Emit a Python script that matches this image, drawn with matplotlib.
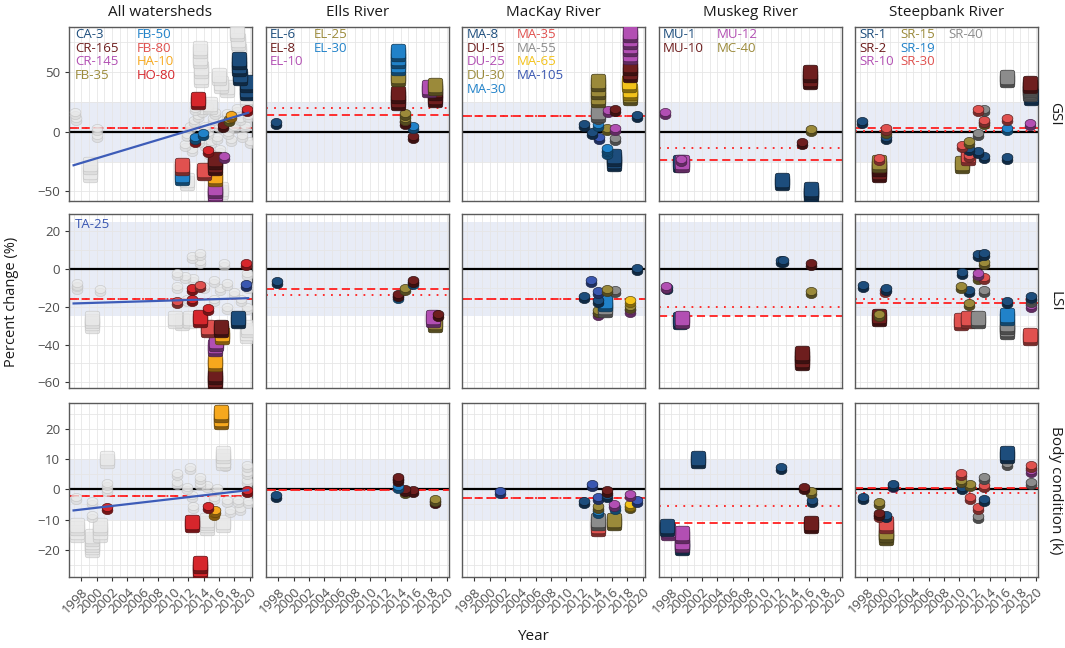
import matplotlib
matplotlib.use('Agg')
import matplotlib.pyplot as plt
import matplotlib.colors as mcolors
import matplotlib.transforms as mtransforms
from matplotlib.path import Path
import numpy as np

plt.rcParams['font.family'] = ['Open Sans', 'DejaVu Sans']

watersheds = ['All watersheds', 'Ells River', 'MacKay River', 'Muskeg River', 'Steepbank River']
metrics = ['GSI', 'LSI', 'Body condition (k)']

navy, maroon, magenta, olive = '#1d4d7c', '#6e1e1e', '#b24fb3', '#9b8a3a'
blue, salmon, orange, red = '#2182c9', '#e0514f', '#f6a81d', '#d6262c'
royal, grey, gold = '#3a57b1', '#8c8c8c', '#f3c21a'

site_colors = {
    'CA-3': navy, 'CR-165': maroon, 'CR-145': magenta, 'FB-35': olive, 'FB-50': blue,
    'FB-80': salmon, 'HA-10': orange, 'HO-80': red, 'TA-25': royal,
    'EL-6': navy, 'EL-8': maroon, 'EL-10': magenta, 'EL-25': olive, 'EL-30': blue,
    'MA-8': navy, 'DU-15': maroon, 'DU-25': magenta, 'DU-30': olive, 'MA-30': blue,
    'MA-35': salmon, 'MA-55': grey, 'MA-65': gold, 'MA-105': royal,
    'MU-1': navy, 'MU-10': maroon, 'MU-12': magenta, 'MC-40': olive,
    'SR-1': navy, 'SR-2': maroon, 'SR-10': magenta, 'SR-15': olive, 'SR-19': blue,
    'SR-30': salmon, 'SR-40': grey,
}

legend_sites = {
    'All watersheds': ['CA-3', 'CR-165', 'CR-145', 'FB-35', 'FB-50', 'FB-80', 'HA-10', 'HO-80'],
    'Ells River': ['EL-6', 'EL-8', 'EL-10', 'EL-25', 'EL-30'],
    'MacKay River': ['MA-8', 'DU-15', 'DU-25', 'DU-30', 'MA-30', 'MA-35', 'MA-55', 'MA-65', 'MA-105'],
    'Muskeg River': ['MU-1', 'MU-10', 'MU-12', 'MC-40'],
    'Steepbank River': ['SR-1', 'SR-2', 'SR-10', 'SR-15', 'SR-19', 'SR-30', 'SR-40'],
}
legend_rows = {'All watersheds': 4, 'Ells River': 3, 'MacKay River': 5,
               'Muskeg River': 2, 'Steepbank River': 3}
legend_cols = {'All watersheds': [0.033, 0.37], 'Ells River': [0.022, 0.262],
               'MacKay River': [0.027, 0.30], 'Muskeg River': [0.022, 0.317],
               'Steepbank River': [0.022, 0.25, 0.51]}

# mean change lines per watershed (dashed / dotted)
dashed_means = {'GSI': [3, 14.5, 13.4, -23.7, 3.3],
                'LSI': [-16, -10.5, -15.9, -25, -18.3],
                'Body condition (k)': [-2.1, -0.3, -2.9, -11, 0.5]}
dotted_means = {'GSI': [3, 19.8, 13.4, -13.7, 0.8],
                'LSI': [-16, -13.8, -15.9, -20, -16],
                'Body condition (k)': [-2.1, -0.3, -2.9, -5.5, -1.1]}

# trend line in the all-watershed panels
trend_years = [1997.0, 2019.8]
trend_vals = {'GSI': [-28, 16], 'LSI': [-18.3, -15.5], 'Body condition (k)': [-7, -0.3]}

ranges = {'GSI': (-58, 88), 'LSI': (-63, 29), 'Body condition (k)': (-29, 28.5)}
yticks = {'GSI': [-50, 0, 50], 'LSI': [-60, -40, -20, 0, 20],
          'Body condition (k)': [-20, -10, 0, 10, 20]}
yminor = {'GSI': [-25, 25, 75], 'LSI': [-50, -30, -10, 10],
          'Body condition (k)': [-25, -15, -5, 5, 15, 25]}
bands = {'GSI': 25, 'LSI': 25, 'Body condition (k)': 10}

# points: (site, year, percent change, shape)  'other' = non-highlighted site
gsi_all = [
    ('other', 1999.2, -27, 's'), ('other', 1999.2, -34, 's'), ('other', 2011.8, -40, 's'),
    ('other', 2013.5, 70, 's'), ('other', 2013.5, 62, 's'), ('other', 2013.6, 54, 's'),
    ('other', 2013.6, 46, 's'), ('other', 2015.3, -31, 's'), ('other', 2016.0, 48, 's'),
    ('other', 2016.2, 41, 's'), ('other', 2016.3, -48, 's'), ('other', 2017.0, 38, 's'),
    ('other', 2018.3, 85, 's'), ('other', 2018.5, 77, 's'), ('other', 2018.6, 69, 's'),
    ('other', 2019.7, 37, 's'), ('other', 2019.7, 29, 's'), ('other', 2014.8, 23, 's'),
    ('other', 1997.2, 17, 'o'), ('other', 1997.3, 12, 'o'), ('other', 2000.0, 3, 'o'),
    ('other', 2000.0, -3, 'o'), ('other', 2011.5, -10, 'o'), ('other', 2011.8, -2, 'o'),
    ('other', 2012.2, 5, 'o'), ('other', 2012.4, -14, 'o'), ('other', 2012.7, 10, 'o'),
    ('other', 2013.2, 14, 'o'), ('other', 2013.4, -7, 'o'), ('other', 2013.8, 18, 'o'),
    ('other', 2014.1, 5, 'o'), ('other', 2014.2, -10, 'o'), ('other', 2014.5, 22, 'o'),
    ('other', 2014.6, 0, 'o'), ('other', 2015.0, -8, 'o'), ('other', 2015.2, 12, 'o'),
    ('other', 2015.5, 17, 'o'), ('other', 2015.7, -4, 'o'), ('other', 2016.0, 6, 'o'),
    ('other', 2016.1, -14, 'o'), ('other', 2016.5, 10, 'o'), ('other', 2017.0, 16, 'o'),
    ('other', 2017.2, 0, 'o'), ('other', 2017.6, -6, 'o'), ('other', 2018.0, 5, 'o'),
    ('other', 2018.4, 20, 'o'), ('other', 2018.7, 12, 'o'), ('other', 2019.0, -3, 'o'),
    ('other', 2019.4, 6, 'o'), ('other', 2019.8, 14, 'o'), ('other', 2020.0, -8, 'o'),
    ('other', 2012.8, 20, 'o'), ('other', 2014.8, -18, 'o'),
    ('CA-3', 2018.6, 61, 's'), ('CA-3', 2018.6, 55, 's'), ('CA-3', 2018.7, 48, 's'),
    ('CA-3', 2019.6, 42, 's'), ('CA-3', 2019.6, 35, 's'),
    ('HO-80', 2013.3, 28, 's'), ('HO-80', 2019.6, 19.5, 'o'), ('HO-80', 2012.9, -6.5, 'o'),
    ('HO-80', 2014.5, -15, 'o'), ('FB-50', 2012.9, -4.5, 'o'), ('FB-50', 2013.9, -1, 'o'),
    ('FB-50', 2011.2, -36, 's'), ('FB-80', 2011.2, -28, 's'), ('FB-80', 2014.0, -32, 's'),
    ('CR-165', 2015.5, -23, 's'), ('CR-165', 2015.5, -28, 's'), ('CR-165', 2016.5, 6, 'o'),
    ('HA-10', 2015.5, -37, 's'), ('HA-10', 2017.5, 14, 'o'),
    ('CR-145', 2015.5, -47, 's'), ('CR-145', 2015.5, -51, 's'), ('CR-145', 2016.7, -20, 'o'),
    ('FB-35', 2017.3, 11, 'o'),
]
lsi_all = [
    ('other', 1999.4, -26, 's'), ('other', 1999.4, -28.7, 's'), ('other', 2010.3, -26, 's'),
    ('other', 2011.1, -27, 's'), ('other', 2012.2, -26, 's'), ('other', 2019.6, -34, 's'),
    ('other', 2019.8, -31, 's'),
    ('other', 1997.4, -7.4, 'o'), ('other', 1997.5, -9.5, 'o'), ('other', 2000.5, -10.6, 'o'),
    ('other', 2012.4, 6.7, 'o'), ('other', 2013.5, 8.5, 'o'), ('other', 2013.5, 4, 'o'),
    ('other', 2016.6, 3.2, 'o'), ('other', 2010.5, -2, 'o'), ('other', 2010.5, -9, 'o'),
    ('other', 2011.6, -4, 'o'), ('other', 2012.6, -5, 'o'), ('other', 2014.0, -9, 'o'),
    ('other', 2015.3, -5.7, 'o'), ('other', 2016.1, -10, 'o'), ('other', 2017.0, -7.4, 'o'),
    ('other', 2017.9, -12, 'o'), ('other', 2018.8, -16, 'o'), ('other', 2019.8, -9, 'o'),
    ('other', 2019.6, -20, 'o'), ('other', 2011.8, -16, 'o'), ('other', 2015.3, -16, 'o'),
    ('other', 2017.0, -20, 'o'), ('other', 2019.7, -2, 'o'),
    ('TA-25', 2019.5, -8, 'o'), ('HO-80', 2019.5, 3.2, 'o'), ('HO-80', 2012.4, -10, 'o'),
    ('FB-80', 2013.5, -8.8, 'o'), ('HO-80', 2012.4, -15.8, 'o'), ('FB-80', 2010.5, -17, 'o'),
    ('HO-80', 2014.5, -20.7, 'o'), ('HO-80', 2013.5, -25.5, 's'), ('FB-80', 2014.5, -31, 's'),
    ('HA-10', 2016.4, -34.5, 's'), ('CR-165', 2016.3, -30.5, 's'), ('CR-145', 2015.5, -41, 's'),
    ('CR-145', 2015.6, -38, 's'), ('HA-10', 2015.5, -48.5, 's'), ('CR-165', 2015.5, -55.5, 's'),
    ('CR-165', 2015.5, -59, 's'), ('CA-3', 2018.5, -26, 's'),
]
k_all = [
    ('other', 1997.4, -11.8, 's'), ('other', 1997.4, -14, 's'), ('other', 1999.4, -15.6, 's'),
    ('other', 1999.4, -17.3, 's'), ('other', 1999.4, -19, 's'), ('other', 2000.5, -11.8, 's'),
    ('other', 2000.5, -14, 's'), ('other', 2001.4, 10.2, 's'), ('other', 2014.4, -10, 's'),
    ('other', 2014.4, -11.8, 's'), ('other', 2016.5, 11.9, 's'), ('other', 2016.5, 9.7, 's'),
    ('other', 2016.5, -10.7, 's'),
    ('other', 1997.3, -2.4, 'o'), ('other', 1999.4, -4, 'o'), ('other', 1999.4, -8.5, 'o'),
    ('other', 2001.4, 2, 'o'), ('other', 2001.4, 0, 'o'), ('other', 2010.5, 5.3, 'o'),
    ('other', 2010.5, 2.5, 'o'), ('other', 2012.2, 7.5, 'o'), ('other', 2012.4, -1.9, 'o'),
    ('other', 2012.6, -5.7, 'o'), ('other', 2013.5, 4.2, 'o'), ('other', 2013.5, 2, 'o'),
    ('other', 2014.4, 1.4, 'o'), ('other', 2015.3, -2.4, 'o'), ('other', 2015.7, 0.3, 'o'),
    ('other', 2017.0, -3.5, 'o'), ('other', 2017.4, -6.8, 'o'), ('other', 2018.5, -3.5, 'o'),
    ('other', 2018.7, -6.3, 'o'), ('other', 2019.6, 8, 'o'), ('other', 2019.6, 5.8, 'o'),
    ('other', 2019.6, 3, 'o'), ('other', 2019.8, -4, 'o'), ('other', 2011.8, 0.9, 'o'),
    ('other', 2016.8, 8.5, 'o'),
    ('HO-80', 2001.4, -5.9, 'o'), ('HO-80', 2012.4, -10.7, 's'), ('HO-80', 2013.5, -24.5, 's'),
    ('HO-80', 2013.5, -26.3, 's'), ('HO-80', 2014.5, -5.7, 'o'), ('HO-80', 2019.6, -0.2, 'o'),
    ('HA-10', 2016.3, 25.5, 's'), ('HA-10', 2016.3, 23.2, 's'), ('HA-10', 2015.5, -6.8, 'o'),
    ('HA-10', 2015.3, -8, 'o'),
]

gsi_ells = [
    ('EL-6', 1997.7, 8.6, 'o'), ('EL-30', 2013.6, 68, 's'), ('EL-30', 2013.6, 62, 's'),
    ('EL-30', 2013.7, 56, 's'), ('EL-25', 2013.6, 47, 's'), ('EL-8', 2013.6, 33, 's'),
    ('EL-8', 2013.6, 27, 's'), ('EL-10', 2017.7, 37.5, 's'), ('EL-25', 2018.5, 39, 's'),
    ('EL-8', 2018.5, 35, 's'), ('EL-8', 2018.5, 29, 's'), ('EL-25', 2014.5, 15.5, 'o'),
    ('EL-25', 2014.5, 12, 'o'), ('EL-8', 2014.5, 8.6, 'o'), ('EL-30', 2015.6, 5, 'o'),
    ('EL-8', 2015.6, -3.3, 'o'),
]
lsi_ells = [
    ('EL-6', 1997.9, -6.2, 'o'), ('EL-30', 2013.6, -14.5, 'o'), ('EL-8', 2013.6, -13.2, 'o'),
    ('EL-25', 2014.5, -10.2, 'o'), ('EL-30', 2015.6, -7, 'o'), ('EL-8', 2015.6, -6, 'o'),
    ('EL-25', 2018.5, -28, 's'), ('EL-10', 2018.2, -25.5, 's'), ('EL-8', 2018.8, -24, 'o'),
]
k_ells = [
    ('EL-6', 1997.7, -1.9, 'o'), ('EL-30', 2013.6, 1.2, 'o'), ('EL-8', 2013.6, 3.3, 'o'),
    ('EL-8', 2013.6, 4.2, 'o'), ('EL-25', 2014.5, -0.5, 'o'), ('EL-8', 2014.6, 0.2, 'o'),
    ('EL-8', 2015.6, -0.3, 'o'), ('EL-25', 2018.5, -3.3, 'o'), ('EL-8', 2018.5, -4, 'o'),
]

gsi_mackay = [
    ('MA-8', 2019.2, 14.1, 'o'), ('DU-25', 2018.3, 84, 's'), ('DU-25', 2018.3, 78, 's'),
    ('DU-25', 2018.3, 72, 's'), ('DU-25', 2018.3, 65, 's'), ('DU-15', 2018.3, 56, 's'),
    ('DU-15', 2018.3, 50, 's'), ('DU-30', 2018.3, 31, 's'), ('MA-65', 2018.3, 35, 's'),
    ('MA-65', 2018.2, 42, 's'), ('DU-30', 2014.2, 43, 's'), ('DU-30', 2014.2, 36, 's'),
    ('DU-30', 2014.2, 29, 's'), ('MA-55', 2014.2, 17, 's'), ('MA-55', 2014.2, 12.5, 'o'),
    ('DU-25', 2015.5, 18, 'o'), ('DU-15', 2016.4, 19.6, 'o'), ('MA-8', 2012.3, 6.6, 'o'),
    ('MA-8', 2013.4, 0.3, 'o'), ('MA-30', 2014.2, 7, 'o'), ('MA-105', 2014.3, -4.4, 'o'),
    ('DU-30', 2015.3, 3, 'o'), ('DU-25', 2016.4, 3, 'o'), ('MA-55', 2016.4, -5.2, 'o'),
    ('MA-30', 2015.3, -13.5, 'o'), ('MA-30', 2015.3, -17, 'o'), ('MA-8', 2016.3, -20.4, 's'),
    ('MA-8', 2016.3, -24.6, 's'),
]
lsi_mackay = [
    ('MA-8', 2019.2, 0.5, 'o'), ('MA-105', 2013.2, -5.7, 'o'), ('MA-105', 2014.2, -11.9, 'o'),
    ('MA-8', 2012.3, -14.5, 'o'), ('DU-30', 2015.3, -10.6, 'o'), ('MA-55', 2016.4, -11, 'o'),
    ('MA-8', 2014.2, -16.3, 'o'), ('MA-30', 2015.1, -17, 's'), ('MA-55', 2015.1, -20, 's'),
    ('DU-30', 2014.2, -21.6, 'o'), ('DU-25', 2014.2, -23.4, 'o'), ('MA-65', 2018.3, -16.3, 'o'),
    ('DU-30', 2018.3, -19.8, 'o'), ('DU-25', 2018.3, -21.6, 'o'),
]
k_mackay = [
    ('MA-105', 2001.4, -0.5, 'o'), ('MA-105', 2013.4, 1.6, 'o'), ('MA-8', 2012.3, -4, 'o'),
    ('MA-105', 2014.2, -2.6, 'o'), ('DU-15', 2015.3, -0.4, 'o'), ('MA-8', 2015.3, -1.9, 'o'),
    ('DU-25', 2016.3, -4.8, 'o'), ('MA-30', 2016.4, -5.9, 'o'), ('DU-30', 2014.2, -5.5, 'o'),
    ('MA-30', 2014.2, -7.2, 'o'), ('MA-35', 2014.2, -12.3, 's'), ('MA-55', 2014.2, -10, 's'),
    ('DU-30', 2016.3, -10.3, 's'), ('DU-25', 2018.3, -1.5, 'o'), ('DU-30', 2018.3, -5.5, 'o'),
    ('MA-65', 2018.3, -4.8, 'o'), ('MA-105', 2019.2, -3.7, 'o'),
]

gsi_muskeg = [
    ('MU-12', 1997.2, 16.8, 'o'), ('MU-1', 1999.2, -25.5, 's'), ('MU-12', 1999.4, -25, 's'),
    ('MU-12', 1999.3, -23, 'o'), ('MU-10', 2016.1, 50, 's'), ('MU-10', 2016.1, 44, 's'),
    ('MC-40', 2016.3, 2.2, 'o'), ('MU-10', 2015.1, -8.8, 'o'), ('MU-1', 2012.5, -40, 's'),
    ('MU-1', 2016.3, -48, 's'), ('MU-1', 2016.3, -51, 's'),
]
lsi_muskeg = [
    ('MU-1', 1997.4, -9.6, 'o'), ('MU-12', 1997.3, -9, 'o'), ('MU-12', 1999.4, -26, 's'),
    ('MU-1', 1999.2, -26.4, 's'), ('MU-1', 2012.3, 4.6, 'o'), ('MU-1', 2012.6, 4.6, 'o'),
    ('MU-10', 2016.3, 3.2, 'o'), ('MC-40', 2016.3, -11.9, 'o'), ('MU-10', 2015.1, -44.6, 's'),
    ('MU-10', 2015.1, -48, 's'),
]
k_muskeg = [
    ('MU-1', 2001.5, 10.2, 's'), ('MU-1', 2012.3, 7.5, 'o'), ('MU-10', 2015.3, 0.7, 'o'),
    ('MC-40', 2016.3, -0.5, 'o'), ('MU-1', 2016.4, -3.5, 'o'), ('MU-10', 2016.3, -11.2, 's'),
    ('MU-1', 1997.4, -12.3, 's'), ('MU-12', 1997.6, -13.4, 's'), ('MU-1', 1999.4, -18.3, 's'),
    ('MU-12', 1999.4, -17.3, 's'), ('MU-12', 1999.4, -14.5, 's'),
]

gsi_steepbank = [
    ('SR-1', 1997.3, 9.4, 'o'), ('SR-1', 2000.5, -3.9, 'o'), ('SR-15', 2000.4, 0.5, 'o'),
    ('SR-30', 2000.4, 3, 'o'), ('SR-2', 1999.5, -34, 's'), ('SR-2', 1999.5, -29, 's'),
    ('SR-15', 1999.5, -25, 's'), ('SR-30', 1999.5, -21.8, 'o'), ('SR-30', 2012.4, 19.6, 'o'),
    ('SR-40', 2013.3, 18.8, 'o'), ('SR-15', 2013.3, 8.6, 'o'), ('SR-30', 2013.3, 10, 'o'),
    ('SR-40', 2012.4, -1.1, 'o'), ('SR-15', 2011.3, -8, 'o'), ('SR-30', 2010.4, -10.8, 'o'),
    ('SR-1', 2011.3, -13.5, 'o'), ('SR-1', 2012.4, -16.3, 'o'), ('SR-15', 2010.4, -26, 's'),
    ('SR-30', 2011.1, -19, 's'), ('SR-30', 2011.3, -19, 'o'), ('SR-1', 2013.3, -20.4, 'o'),
    ('SR-1', 2016.3, -21.3, 'o'), ('SR-40', 2016.3, 45.9, 's'), ('SR-2', 2019.2, 41, 's'),
    ('SR-40', 2019.2, 38, 's'), ('SR-40', 2019.2, 34, 's'), ('SR-1', 2019.4, 30.7, 's'),
    ('SR-30', 2016.2, 11.3, 'o'), ('SR-19', 2016.3, 3, 'o'), ('SR-10', 2019.2, 7.2, 'o'),
]
lsi_steepbank = [
    ('SR-1', 1997.4, -8.8, 'o'), ('SR-1', 2000.4, -10, 'o'), ('SR-30', 2000.3, -11.3, 'o'),
    ('SR-2', 1999.5, -25, 's'), ('SR-15', 1999.5, -23.9, 'o'), ('SR-1', 2012.4, 7.6, 'o'),
    ('SR-1', 2013.3, 8.5, 'o'), ('SR-15', 2013.3, 3.5, 'o'), ('SR-1', 2010.4, -1.8, 'o'),
    ('SR-10', 2012.4, -2.1, 'o'), ('SR-15', 2012.4, -4.2, 'o'), ('SR-30', 2013.3, -4.2, 'o'),
    ('SR-15', 2010.3, -9.2, 'o'), ('SR-1', 2011.3, -11.3, 'o'), ('SR-40', 2013.3, -11, 'o'),
    ('SR-15', 2011.3, -18, 'o'), ('SR-30', 2010.2, -27, 's'), ('SR-30', 2011.1, -26, 's'),
    ('SR-40', 2012.4, -26, 's'), ('SR-19', 2016.3, -24.5, 's'), ('SR-40', 2016.3, -29, 's'),
    ('SR-40', 2016.3, -32, 's'), ('SR-1', 2016.3, -17.2, 'o'), ('SR-1', 2019.4, -14.2, 'o'),
    ('SR-40', 2019.4, -16.5, 'o'), ('SR-10', 2019.4, -19, 'o'), ('SR-30', 2019.2, -34.9, 's'),
]
k_steepbank = [
    ('SR-1', 1997.4, -2.7, 'o'), ('SR-15', 1999.5, -4.1, 'o'), ('SR-2', 1999.5, -7.7, 'o'),
    ('SR-30', 1999.5, -8.5, 'o'), ('SR-1', 2000.5, -8.5, 'o'), ('SR-30', 2000.5, -11.2, 's'),
    ('SR-15', 2000.5, -14, 's'), ('SR-15', 2000.5, -15, 's'), ('SR-10', 2001.4, 1.4, 'o'),
    ('SR-1', 2001.3, 1.6, 'o'), ('SR-30', 2010.3, 5.3, 'o'), ('SR-15', 2010.3, 3.1, 'o'),
    ('SR-15', 2011.4, 1.8, 'o'), ('SR-1', 2010.4, 0.7, 'o'), ('SR-30', 2011.4, -2.6, 'o'),
    ('SR-30', 2012.4, -5.9, 'o'), ('SR-40', 2012.4, -9, 'o'), ('SR-40', 2013.3, 4.2, 'o'),
    ('SR-30', 2013.3, 1.4, 'o'), ('SR-1', 2013.3, -3.3, 'o'), ('SR-1', 2016.3, 11.9, 's'),
    ('SR-40', 2016.3, 8.6, 'o'), ('SR-30', 2019.4, 8, 'o'), ('SR-10', 2019.4, 6.4, 'o'),
    ('SR-40', 2019.4, 2.5, 'o'),
]

panels = {
    'GSI': [gsi_all, gsi_ells, gsi_mackay, gsi_muskeg, gsi_steepbank],
    'LSI': [lsi_all, lsi_ells, lsi_mackay, lsi_muskeg, lsi_steepbank],
    'Body condition (k)': [k_all, k_ells, k_mackay, k_muskeg, k_steepbank],
}

# marker shapes: rounded square and flat ellipse
t = np.linspace(0, 2 * np.pi, 64)
ct, st = np.cos(t), np.sin(t)
ellipse = Path(np.column_stack([ct, 0.75 * st]))
rsquare = Path(np.column_stack([np.sign(ct) * np.abs(ct) ** 0.3,
                                np.sign(st) * np.abs(st) ** 0.3]))


def shade(c, f):
    r, g, b = mcolors.to_rgb(c)
    return (r * f, g * f, b * f)


def draw_points(ax, pts):
    """Draw points as small stacked 3D-looking markers."""
    drop = mtransforms.offset_copy(ax.transData, fig=ax.figure, x=0, y=-3, units='dots')
    order = sorted(pts, key=lambda p: (p[0] != 'other', p[2]))
    for site, yr, val, shp in order:
        marker = rsquare if shp == 's' else ellipse
        size = 110 if shp == 's' else 60
        if site == 'other':
            face, side, edge, alpha = '#ececec', '#dadada', '#bdbdbd', 0.7
        else:
            face = site_colors[site]
            side, edge, alpha = shade(face, 0.55), shade(face, 0.4), 1.0
        ax.scatter([yr], [val], s=size, marker=marker, c=[side], edgecolors=[edge],
                   linewidths=0.5, alpha=alpha, transform=drop, zorder=3)
        ax.scatter([yr], [val], s=size, marker=marker, c=[face], edgecolors=[edge],
                   linewidths=0.5, alpha=alpha, zorder=3)


fig = plt.figure(figsize=(10.65, 6.48), dpi=100)
W, H = 1065, 648
col_left = [69, 266, 462, 659, 855]
row_top = [27, 214, 403]
pw, ph = 183, 174

for r, metric in enumerate(metrics):
    for c, ws in enumerate(watersheds):
        ax = fig.add_axes([col_left[c] / W, 1 - (row_top[r] + ph) / H, pw / W, ph / H])
        ax.set_xlim(1996.4, 2020.3)
        ax.set_ylim(*ranges[metric])
        ax.set_xticks(range(1998, 2021, 2))
        ax.set_xticks(range(1997, 2021, 2), minor=True)
        ax.set_yticks(yticks[metric])
        ax.set_yticks(yminor[metric], minor=True)
        ax.grid(which='both', color='#e6e6e6', lw=0.6)
        ax.set_axisbelow(True)
        ax.tick_params(which='minor', length=0)
        ax.tick_params(which='major', length=3, color='#333333', labelcolor='#4d4d4d',
                       labelsize=9.5, width=0.8)
        for sp in ax.spines.values():
            sp.set_color('#5a5a5a')
            sp.set_linewidth(1.0)
        if c > 0:
            ax.tick_params(axis='y', left=False, labelleft=False)
        if r < 2:
            ax.tick_params(axis='x', bottom=False, labelbottom=False)
        else:
            ax.set_xticklabels([str(y) for y in range(1998, 2021, 2)], rotation=45,
                               ha='right', rotation_mode='anchor')

        b = bands[metric]
        ax.axhspan(-b, b, color='#e4e9f5', alpha=0.85, zorder=0, lw=0)
        ax.axhline(0, color='black', lw=1.6, zorder=2)
        ax.axhline(dashed_means[metric][c], color='#ff2020', lw=1.3,
                   ls=(0, (4.5, 2.5)), zorder=2.5)
        ax.axhline(dotted_means[metric][c], color='#ff2020', lw=1.3,
                   ls=(0, (1, 3.5)), zorder=2.5)
        if c == 0:
            ax.plot(trend_years, trend_vals[metric], color='#3d5cb8', lw=1.6, zorder=4)

        draw_points(ax, panels[metric][c])

        if r == 0:
            sites = legend_sites[ws]
            nrow = legend_rows[ws]
            for i, site in enumerate(sites):
                cc, rr = divmod(i, nrow)
                ax.text(legend_cols[ws][cc], 0.957 - rr * 0.079, site,
                        color=site_colors[site], transform=ax.transAxes, fontsize=9.5,
                        va='center', ha='left', zorder=6)
            fig.text((col_left[c] + pw / 2) / W, 1 - 13 / H, ws, ha='center',
                     va='center', fontsize=11, color='#1a1a1a')
        if r == 1 and c == 0:
            ax.text(0.033, 0.94, 'TA-25', color=site_colors['TA-25'],
                    transform=ax.transAxes, fontsize=9.5, va='center', ha='left', zorder=6)
        if c == 4:
            fig.text(1055 / W, 1 - (row_top[r] + ph / 2) / H, metric, rotation=270,
                     ha='center', va='center', fontsize=11, color='#1a1a1a')

fig.text(12 / W, 1 - 302 / H, 'Percent change (%)', rotation=90, ha='center',
         va='center', fontsize=10.5, color='#1a1a1a')
fig.text(533 / W, 1 - 637 / H, 'Year', ha='center', va='center', fontsize=11,
         color='#1a1a1a')

fig.savefig('out.png', dpi=100)
